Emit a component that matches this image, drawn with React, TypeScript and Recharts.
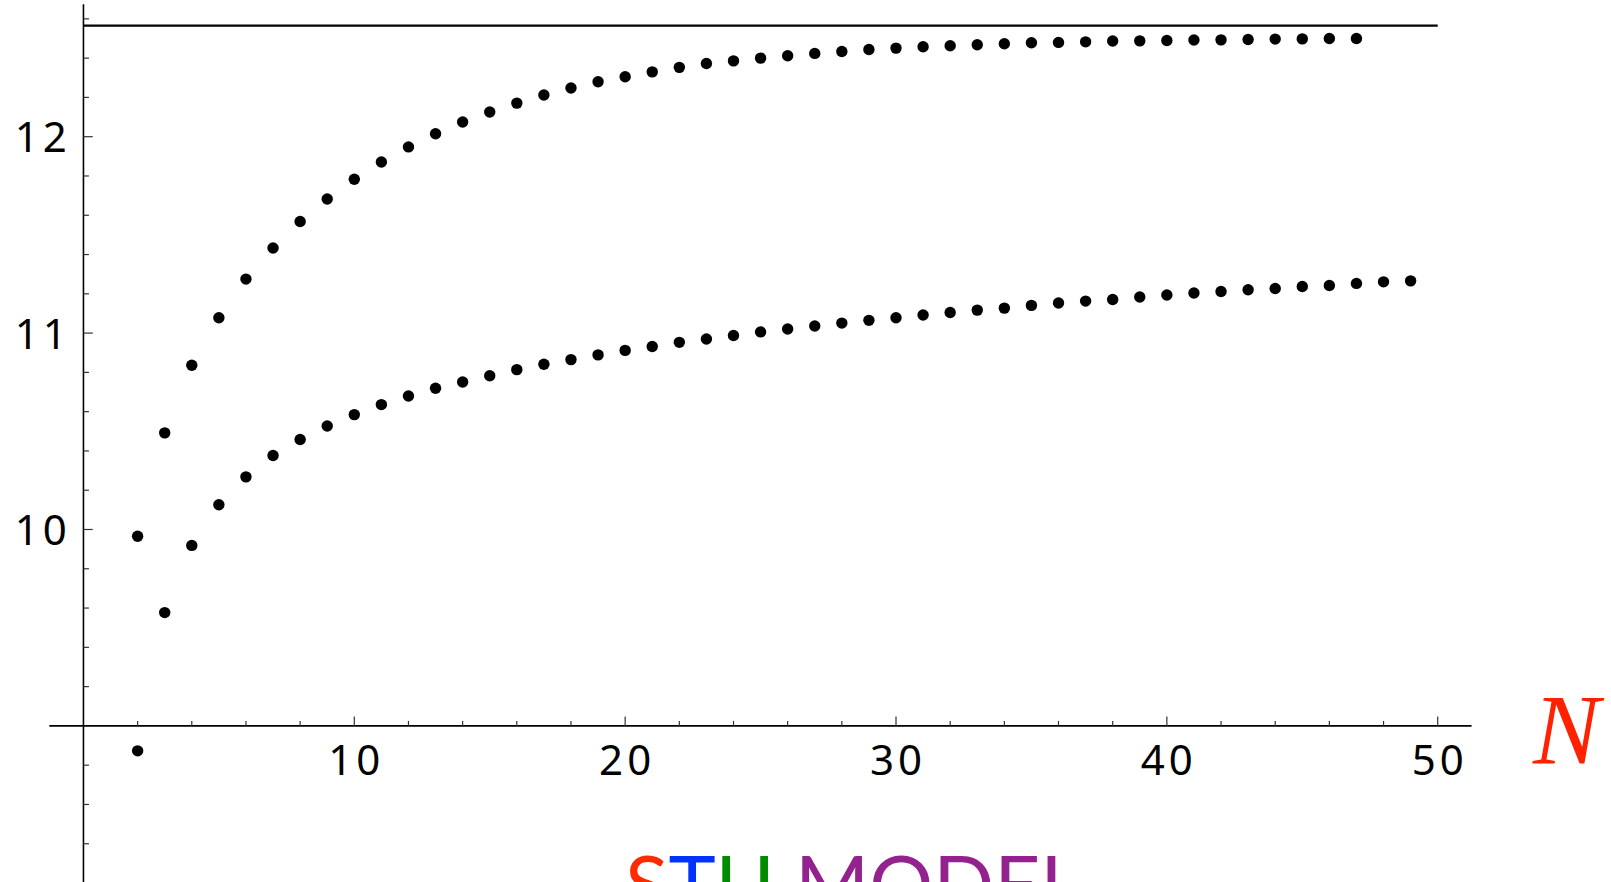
import React from "react";
import { ScatterChart, Scatter, XAxis, YAxis, ReferenceLine, ReferenceDot } from "recharts";

// ---- data ----
const N_UPPER = [2, 3, 4, 5, 6, 7, 8, 9, 10, 11, 12, 13, 14, 15, 16, 17, 18, 19, 20, 21, 22, 23, 24, 25, 26, 27, 28, 29, 30, 31, 32, 33, 34, 35, 36, 37, 38, 39, 40, 41, 42, 43, 44, 45, 46, 47];
const UPPER = [9.966, 10.492, 10.836, 11.078, 11.275, 11.433, 11.568, 11.683, 11.783, 11.871, 11.948, 12.015, 12.075, 12.126, 12.171, 12.212, 12.248, 12.28, 12.305, 12.33, 12.353, 12.373, 12.386, 12.4, 12.412, 12.424, 12.434, 12.444, 12.451, 12.458, 12.463, 12.468, 12.473, 12.478, 12.48, 12.483, 12.487, 12.488, 12.49, 12.492, 12.493, 12.495, 12.497, 12.498, 12.5, 12.5];
const N_LOWER = [2, 3, 4, 5, 6, 7, 8, 9, 10, 11, 12, 13, 14, 15, 16, 17, 18, 19, 20, 21, 22, 23, 24, 25, 26, 27, 28, 29, 30, 31, 32, 33, 34, 35, 36, 37, 38, 39, 40, 41, 42, 43, 44, 45, 46, 47, 48, 49];
const LOWER = [8.873, 9.577, 9.919, 10.126, 10.268, 10.377, 10.458, 10.527, 10.585, 10.636, 10.68, 10.719, 10.751, 10.783, 10.814, 10.841, 10.865, 10.889, 10.912, 10.932, 10.953, 10.97, 10.988, 11.006, 11.021, 11.036, 11.051, 11.065, 11.078, 11.092, 11.105, 11.117, 11.127, 11.141, 11.153, 11.163, 11.171, 11.184, 11.194, 11.204, 11.212, 11.221, 11.227, 11.237, 11.242, 11.253, 11.261, 11.266];
const LIMIT = 12.566; // horizontal asymptote line

const X_MAJOR_TICKS = [10, 20, 30, 40, 50];
const X_MINOR_TICKS = [2, 4, 6, 8, 12, 14, 16, 18, 22, 24, 26, 28, 32, 34, 36, 38, 42, 44, 46, 48];
const Y_MAJOR_TICKS = [10, 11, 12];
const Y_MINOR_TICKS = [8.4, 8.6, 8.8, 9.2, 9.4, 9.6, 9.8, 10.2, 10.4, 10.6, 10.8, 11.2, 11.4, 11.6, 11.8, 12.2, 12.4, 12.6];
const X_TICK_LABELS = ["10", "20", "30", "40", "50"];
const Y_TICK_LABELS = ["10", "11", "12"];

const AXIS_X = 0; // y-axis drawn at N = 0
const AXIS_Y = 9; // x-axis drawn at value 9
const X_AXIS_EXTENT = [-1.26, 51.25];
const Y_AXIS_EXTENT = [8.2, 12.674];
const LIMIT_EXTENT = [0, 50];

const X_DOMAIN: [number, number] = [-3.081, 56.398];
const Y_DOMAIN: [number, number] = [8.2052, 12.696];

const upperData = N_UPPER.map((n, i) => ({ x: n, y: UPPER[i] }));
const lowerData = N_LOWER.map((n, i) => ({ x: n, y: LOWER[i] }));

const W = 1611;
const H = 882;
const TICK_FONT = "'Noto Sans', 'DejaVu Sans', sans-serif";
const TICK_SIZE = 42;
const TICK_LS = 4;

const Dot = (p: any) => <circle cx={p.cx} cy={p.cy} r={5.7} fill="#000" />;

const xTick = (len: number) => (p: any) => (
  <line x1={p.cx} x2={p.cx} y1={p.cy} y2={p.cy - len} stroke="#333" strokeWidth={1.2} />
);
const yTick = (len: number) => (p: any) => (
  <line x1={p.cx} x2={p.cx + len} y1={p.cy} y2={p.cy} stroke="#333" strokeWidth={1.2} />
);
const xLabel = (txt: string) => (p: any) => (
  <text x={p.cx + TICK_LS / 2} y={p.cy + 49} textAnchor="middle" fontFamily={TICK_FONT} fontSize={TICK_SIZE} letterSpacing={TICK_LS} fill="#000">
    {txt}
  </text>
);
const yLabel = (txt: string) => (p: any) => (
  <text x={p.cx - 16.6 + TICK_LS} y={p.cy + 15.5} textAnchor="end" fontFamily={TICK_FONT} fontSize={TICK_SIZE} letterSpacing={TICK_LS} fill="#000">
    {txt}
  </text>
);

export default function App() {
  return (
    <div style={{ position: "absolute", left: 0, top: 0, width: W, height: H, overflow: "hidden", background: "#fff" }}>
      <ScatterChart width={W} height={H} margin={{ top: 0, right: 0, bottom: 0, left: 0 }}>
        <XAxis type="number" dataKey="x" domain={X_DOMAIN} allowDataOverflow hide />
        <YAxis type="number" dataKey="y" domain={Y_DOMAIN} allowDataOverflow hide />
        <ReferenceLine
          segment={[{ x: X_AXIS_EXTENT[0], y: AXIS_Y }, { x: X_AXIS_EXTENT[1], y: AXIS_Y }]}
          stroke="#000"
          strokeWidth={1.6}
          ifOverflow="visible"
        />
        <ReferenceLine
          segment={[{ x: AXIS_X, y: Y_AXIS_EXTENT[0] }, { x: AXIS_X, y: Y_AXIS_EXTENT[1] }]}
          stroke="#000"
          strokeWidth={1.6}
          ifOverflow="visible"
        />
        <ReferenceLine
          segment={[{ x: LIMIT_EXTENT[0], y: LIMIT }, { x: LIMIT_EXTENT[1], y: LIMIT }]}
          stroke="#000"
          strokeWidth={2.2}
          ifOverflow="visible"
        />
        {X_MAJOR_TICKS.map((t) => (
          <ReferenceDot key={"xM" + t} x={t} y={AXIS_Y} r={0} shape={xTick(9.3)} ifOverflow="visible" />
        ))}
        {X_MINOR_TICKS.map((t) => (
          <ReferenceDot key={"xm" + t} x={t} y={AXIS_Y} r={0} shape={xTick(5)} ifOverflow="visible" />
        ))}
        {Y_MAJOR_TICKS.map((t) => (
          <ReferenceDot key={"yM" + t} x={AXIS_X} y={t} r={0} shape={yTick(9.3)} ifOverflow="visible" />
        ))}
        {Y_MINOR_TICKS.map((t) => (
          <ReferenceDot key={"ym" + t} x={AXIS_X} y={t} r={0} shape={yTick(5.5)} ifOverflow="visible" />
        ))}
        {X_MAJOR_TICKS.map((t, i) => (
          <ReferenceDot key={"xl" + t} x={t} y={AXIS_Y} r={0} shape={xLabel(X_TICK_LABELS[i])} ifOverflow="visible" />
        ))}
        {Y_MAJOR_TICKS.map((t, i) => (
          <ReferenceDot key={"yl" + t} x={AXIS_X} y={t} r={0} shape={yLabel(Y_TICK_LABELS[i])} ifOverflow="visible" />
        ))}
        <Scatter data={upperData} shape={Dot} isAnimationActive={false} />
        <Scatter data={lowerData} shape={Dot} isAnimationActive={false} />
      </ScatterChart>
      <svg width={W} height={H} style={{ position: "absolute", left: 0, top: 0, pointerEvents: "none" }}>
        <text x={1533} y={763} fontFamily="'Liberation Serif', 'DejaVu Serif', serif" fontStyle="italic" fontSize={100} fill="#ff2200">
          N
        </text>
        <text x={625} y={913} fontFamily="Lato, 'Open Sans', sans-serif" fontSize={80}>
          <tspan fill="#ff2a00">S</tspan>
          <tspan fill="#0033ff">T</tspan>
          <tspan fill="#008c00">U</tspan>
          <tspan fill="#93228f"> MODEL</tspan>
        </text>
      </svg>
    </div>
  );
}
